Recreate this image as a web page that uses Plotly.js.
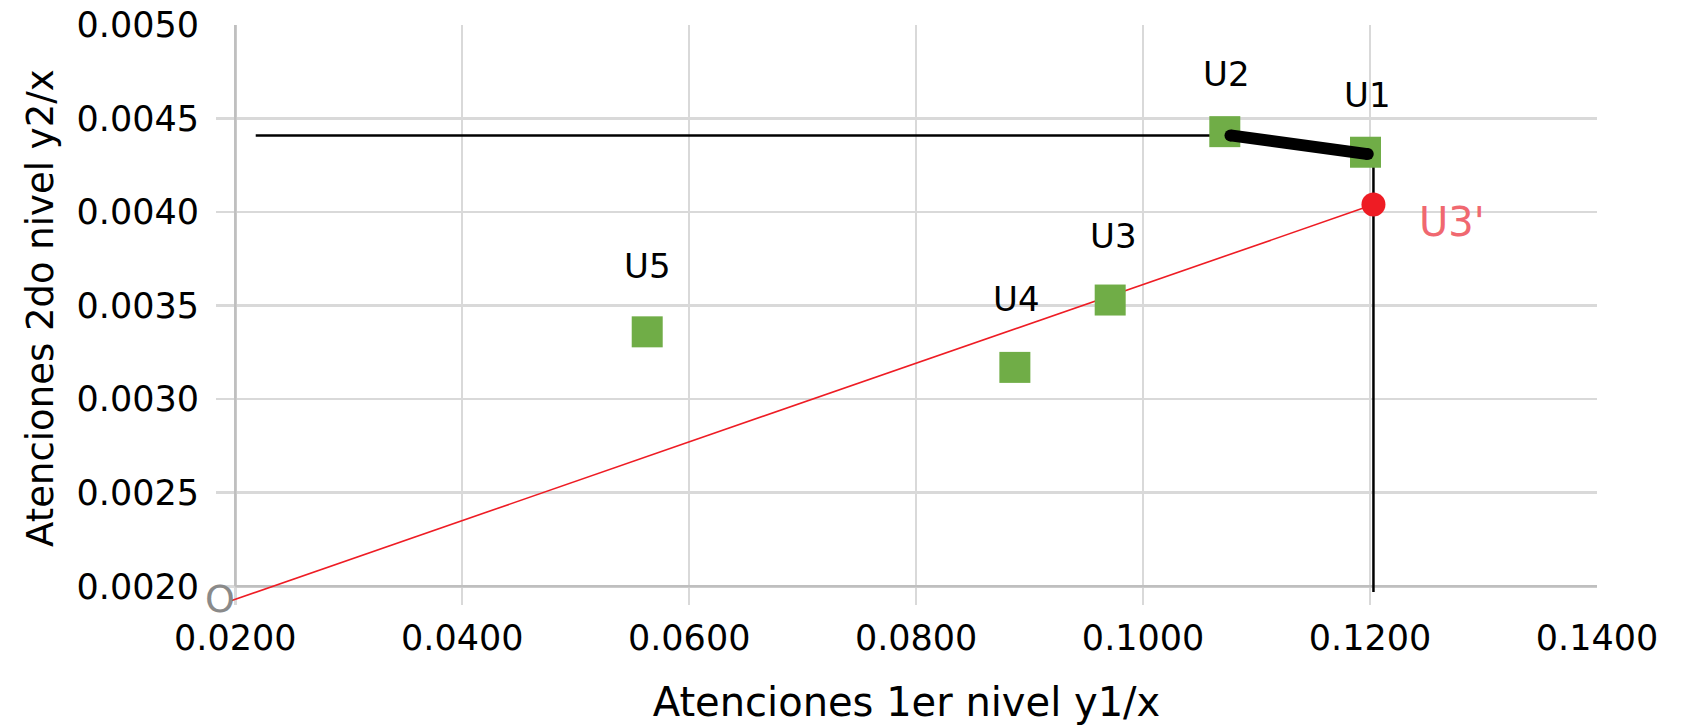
<!DOCTYPE html>
<html>
<head>
<meta charset="utf-8">
<script src="https://cdn.plot.ly/plotly-3.0.1.min.js"></script>
<style>html,body{margin:0;padding:0;background:#fff;}#chart{width:1688px;height:725px;}</style>
</head>
<body>
<div id="chart"></div>
<script>
// ---- data ----
const pointNames = ['U1', 'U2', 'U3', 'U4', 'U5'];
const pointX = [0.1196, 0.1072, 0.0971, 0.0887, 0.0563];
const pointY = [0.00432, 0.00443, 0.00353, 0.00317, 0.00336];

const originName = 'O';
const originX = 0.0195;
const originY = 0.00192;

const u3PrimeName = "U3'";
const u3PrimeX = 0.1203;
const u3PrimeY = 0.00404;

const refLineX = [0.0218, 0.1077];
const refLineY = [0.00441, 0.00441];
const frontierX = [0.1077, 0.1198];
const frontierY = [0.00441, 0.00431];
const vertLineX = [0.1203, 0.1203];
const vertLineY = [0.00431, 0.00197];

const xTickVals = [0.02, 0.04, 0.06, 0.08, 0.10, 0.12, 0.14];
const yTickVals = [0.0020, 0.0025, 0.0030, 0.0035, 0.0040, 0.0045, 0.0050];
const xTitle = 'Atenciones 1er nivel y1/x';
const yTitle = 'Atenciones 2do nivel y2/x';

// ---- styling ----
const FONT = 'DejaVu Sans, sans-serif';
const labelShift = {U1: [2, 57], U2: [2, 58], U3: [3, 64], U4: [2, 68], U5: [0, 66]};
// small extra room so marks that run past the axes (as in the original) stay visible
const xPad = 0.0017, yPad = 0.0001;
const marginL = 215.7;

const traces = [
  {x: vertLineX, y: vertLineY, mode: 'lines', line: {color: '#000', width: 2.5}, hoverinfo: 'skip', showlegend: false},
  {x: refLineX, y: refLineY, mode: 'lines', line: {color: '#000', width: 2.5}, hoverinfo: 'skip', showlegend: false},
  {x: [originX, u3PrimeX], y: [originY, u3PrimeY], mode: 'lines', line: {color: '#ee1c24', width: 1.6}, hoverinfo: 'skip', showlegend: false},
  {x: pointX, y: pointY, text: pointNames, mode: 'markers', marker: {symbol: 'square', size: 31, color: '#70ad47'}, showlegend: false},
  {x: frontierX, y: frontierY, mode: 'lines+markers', line: {color: '#000', width: 12}, marker: {color: '#000', size: 12}, hoverinfo: 'skip', showlegend: false},
  {x: [u3PrimeX], y: [u3PrimeY], mode: 'markers', marker: {symbol: 'circle', size: 24, color: '#ee1c24'}, showlegend: false}
];

const annotations = pointNames.map((n, i) => ({
  x: pointX[i], y: pointY[i], xref: 'x', yref: 'y', text: n, showarrow: false,
  xshift: labelShift[n][0], yshift: labelShift[n][1],
  font: {family: FONT, size: 34, color: '#000'}
}));
annotations.push({
  x: u3PrimeX, y: u3PrimeY, xref: 'x', yref: 'y', text: u3PrimeName, showarrow: false,
  xshift: 79, yshift: -17, font: {family: FONT, size: 40, color: '#f06870'}
});
annotations.push({
  x: originX, y: originY, xref: 'x', yref: 'y', text: originName, showarrow: false,
  xshift: -10, yshift: 2, font: {family: FONT, size: 38, color: '#8a8a8a'}
});

const xLast = xTickVals[xTickVals.length - 1];
const yLast = yTickVals[yTickVals.length - 1];
// y-axis title, centred on the 0.0020–0.0050 span
annotations.push({
  xref: 'paper', yref: 'y', x: 0, y: (yTickVals[0] + yLast) / 2,
  xanchor: 'center', yanchor: 'middle', xshift: 40 - marginL, yshift: -2,
  text: yTitle, textangle: -90, showarrow: false,
  font: {family: FONT, size: 37, color: '#000'}
});

const shapes = [
  {type: 'line', xref: 'x', yref: 'y', layer: 'between', x0: xTickVals[0], x1: xTickVals[0], y0: yTickVals[0], y1: yLast, line: {color: '#bfbfbf', width: 2.5}},
  {type: 'line', xref: 'x', yref: 'y', layer: 'between', x0: xTickVals[0], x1: xLast, y0: yTickVals[0], y1: yTickVals[0], line: {color: '#bfbfbf', width: 2.5}}
];

const layout = {
  width: 1688, height: 725,
  margin: {l: marginL, r: 91, t: 25, b: 120.3, pad: 0},
  paper_bgcolor: '#fff', plot_bgcolor: '#fff',
  font: {family: FONT, color: '#000'},
  showlegend: false,
  xaxis: {
    range: [xTickVals[0] - xPad, xLast], tickvals: xTickVals, tickformat: '.4f',
    showgrid: true, gridcolor: '#d9d9d9', gridwidth: 2.5,
    zeroline: false, showline: false,
    ticks: '', ticklabelstandoff: 9, automargin: false,
    tickfont: {family: FONT, size: 35, color: '#000'},
    title: {text: xTitle, standoff: 35, font: {family: FONT, size: 40, color: '#000'}}
  },
  yaxis: {
    range: [yTickVals[0] - yPad, yLast], tickvals: yTickVals, tickformat: '.4f',
    showgrid: true, gridcolor: '#d9d9d9', gridwidth: 2.5,
    zeroline: false, showline: false,
    ticks: 'outside', ticklen: 9, tickwidth: 1, tickcolor: 'rgba(0,0,0,0)', automargin: false,
    tickfont: {family: FONT, size: 35, color: '#000'}
  },
  shapes: shapes,
  annotations: annotations
};

Plotly.newPlot('chart', traces, layout, {displayModeBar: false, staticPlot: true});
</script>
</body>
</html>
